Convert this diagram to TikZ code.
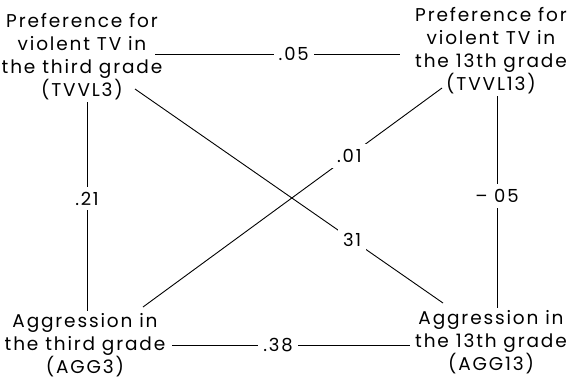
\documentclass[tikz,border=0pt]{standalone}
\usepackage{fontspec}
\setmainfont{Poppins}[LetterSpace=10]
\usetikzlibrary{calc}

\begin{document}
\begin{tikzpicture}[x=1pt, y=-1pt,
    var/.style={align=center, font=\fontsize{18.5}{23}\selectfont, inner sep=2pt},
    link/.style={line width=0.9pt},
    val/.style={fill=white, font=\fontsize{18}{20}\selectfont, inner sep=5pt},
]
    \fill[white] (0,0) rectangle (572,384);
    \useasboundingbox (0,0) rectangle (572,384);

    \node[var] (tvvl3)  at (82,57)  {Preference for\\violent TV in\\the third grade\\(TVVL3)};
    \node[var] (tvvl13) at (491,51) {Preference for\\violent TV in\\the 13th grade\\(TVVL13)};
    \node[var] (agg3)   at (85,345) {Aggression in\\the third grade\\(AGG3)};
    \node[var] (agg13)  at (491,342) {Aggression in\\the 13th grade\\(AGG13)};

    % same-time and cross-time links
    \draw[link, shorten <=-9pt, shorten >=13pt] ([yshift=-3pt]tvvl3.east |- tvvl13.west) -- node[val, pos=0.52] {.05} ([yshift=-3pt]tvvl13.west);
    \draw[link, shorten <=5pt, shorten >=3pt] (agg3.east) -- node[val, pos=0.45] {.38} (agg3.east -| agg13.west);
    \draw[link] ([xshift=5pt]tvvl3.south) -- node[val, pos=0.46] {.21} ([xshift=2pt]agg3.north);
    \draw[link] ([xshift=6pt]tvvl13.south) -- node[val, pos=0.47] {– 05} ([xshift=6pt]agg13.north);
    \draw[link] ($(tvvl3)+(53,32)$) -- node[val, pos=0.705] {31} ($(agg13)+(-48,-39)$);
    \draw[link] ($(agg3)+(58,-38)$) -- node[val, pos=0.69] {.01} ($(tvvl13)+(-49,37)$);
\end{tikzpicture}
\end{document}
